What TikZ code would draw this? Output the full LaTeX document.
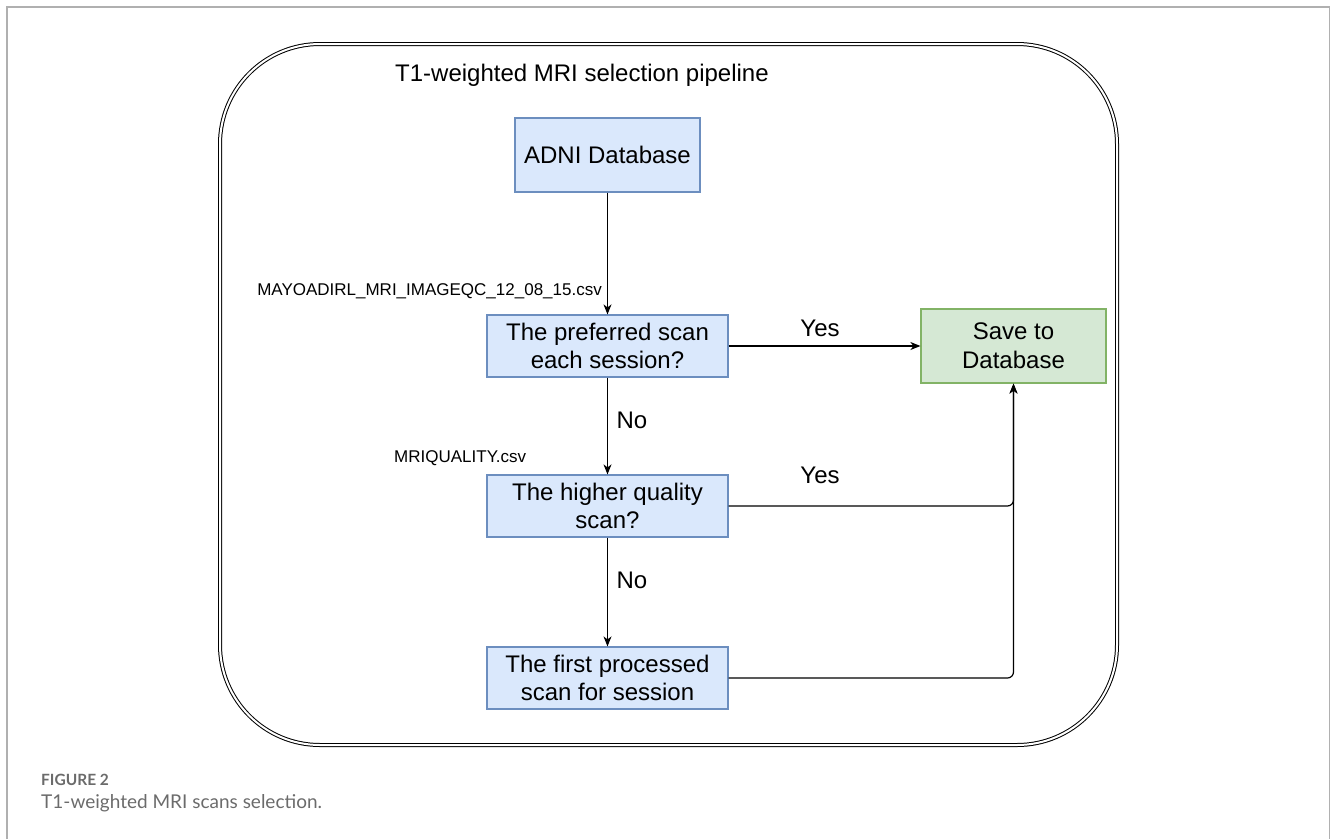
\documentclass[tikz,border=0pt]{standalone}
\usepackage{fontspec}
\setmainfont{Liberation Sans}
\newfontfamily\capfont{Lato}
\usetikzlibrary{arrows.meta}
\definecolor{bluefill}{HTML}{DAE8FC}
\definecolor{bluedraw}{HTML}{6C8EBF}
\definecolor{greenfill}{HTML}{D5E8D4}
\definecolor{greendraw}{HTML}{82B366}
\definecolor{framegray}{HTML}{B0B0B0}
\definecolor{capgray}{HTML}{6B6B6B}
\begin{document}
\begin{tikzpicture}[x=1pt,y=-1pt,
  bluebox/.style={draw=bluedraw, fill=bluefill, line width=1.2pt, minimum width=241pt, minimum height=62pt, align=center, inner sep=0pt, font=\fontsize{24}{28.8}\selectfont},
  greenbox/.style={draw=greendraw, fill=greenfill, line width=1.2pt, minimum width=185pt, minimum height=74pt, align=center, inner sep=0pt, font=\fontsize{24}{28.8}\selectfont},
  arr/.style={line width=1.2pt, -{Stealth[length=10pt,width=8pt,inset=3pt]}},
  lbl/.style={inner sep=0pt, font=\fontsize{24}{28.8}\selectfont},
  smalllbl/.style={inner sep=0pt, font=\fontsize{17}{20}\selectfont},
  pipeframe/.style={double, line width=1pt, double distance=2pt, rounded corners=100pt},
  outerframe/.style={draw=framegray, line width=1.5pt}
]
\useasboundingbox (0,0) rectangle (1331,839);
% page frame
\draw[outerframe] (7,839) -- (7,7) -- (1329.5,7) -- (1329.5,839);
% pipeline frame
\draw[pipeframe] (220,44) rectangle (1117,745);
\node[lbl, anchor=west] (title) at (395,75) {T1-weighted MRI selection pipeline};
% boxes
\node[bluebox, minimum width=185pt, minimum height=74pt] (adni) at (607.5,155) {ADNI Database};
\node[bluebox] (pref) at (607.5,346) {The preferred scan\\each session?};
\node[bluebox] (qual) at (607.5,506) {The higher quality\\scan?};
\node[bluebox] (first) at (607.5,678) {The first processed\\scan for session};
\node[greenbox] (save) at (1013.5,346) {Save to\\Database};
% connectors
\draw[arr] (adni.south) -- (pref.north);
\draw[arr] (pref.east) -- (save.west);
\draw[arr] (pref.south) -- (qual.north);
\draw[arr] (qual.south) -- (first.north);
\draw[arr, rounded corners=6pt] (qual.east) -| (save.south);
\draw[arr, rounded corners=6pt] (first.east) -| (save.south);
% labels
\node[smalllbl, anchor=east] (csv1) at (602,291) {MAYOADIRL\_MRI\_IMAGEQC\_12\_08\_15.csv};
\node[smalllbl, anchor=west] (csv2) at (394,458) {MRIQUALITY.csv};
\node[lbl] (yes1) at (820,328) {Yes};
\node[lbl] (yes2) at (820,475) {Yes};
\node[lbl] (no1) at (632,420) {No};
\node[lbl] (no2) at (632,580) {No};
% caption
\node[inner sep=0pt, anchor=west, text=capgray, font=\capfont\bfseries\fontsize{15.5}{18}\selectfont] (figlbl) at (41,780) {FIGURE 2};
\node[inner sep=0pt, anchor=west, text=capgray, font=\capfont\fontsize{19}{23}\selectfont] (caption) at (41,803) {T1-weighted MRI scans selection.};
\end{tikzpicture}
\end{document}
